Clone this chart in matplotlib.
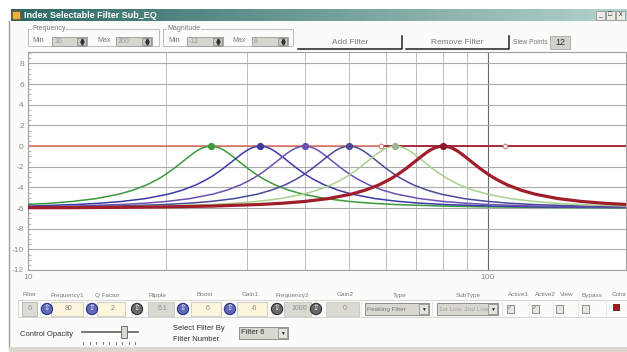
import numpy as np
import matplotlib
matplotlib.use("Agg")
import matplotlib.pyplot as plt
from matplotlib.patches import Rectangle, Circle
from matplotlib.ticker import MultipleLocator, FixedLocator, NullFormatter

plt.rcParams['font.family'] = ['Liberation Sans', 'DejaVu Sans']
plt.rcParams['axes.unicode_minus'] = False

W, H = 627, 352

# ---- chart data ----
freq_range = [10, 200]
mag_range = [-12, 8]
y_ticks = list(range(-12, 9, 2))
x_minor = [20, 30, 40, 50, 60, 70, 80, 90]

filter_centres = [25, 32, 40, 50, 63, 80]
filter_colors = ["#3b9a3b", "#3a3aa8", "#6a52b2", "#4a4a98", "#a9d08e", "#a01e2a"]
filter_widths = [1.1, 1.1, 1.1, 1.1, 1.1, 2.3]
peak_fill = ["#3b9a3b", "#3a3aa8", "#6a52b2", "#4a4a98", "#9fb292", "#8a1a30"]

# one-sided shape of each peaking curve: offset from centre (decades) -> dB
offset_dec = [0.0, 0.01, 0.02, 0.03, 0.04, 0.05, 0.06, 0.07, 0.08, 0.09, 0.10,
              0.11, 0.12, 0.14, 0.17, 0.20, 0.25, 0.30, 0.35, 0.40, 0.50,
              0.60, 0.70, 0.80, 0.90, 1.00]
shape_db = [0.0, -0.06, -0.21, -0.45, -0.76, -1.10, -1.46, -1.81, -2.16, -2.48,
            -2.79, -3.07, -3.32, -3.77, -4.28, -4.66, -5.09, -5.36, -5.54, -5.66,
            -5.81, -5.89, -5.93, -5.96, -5.97, -5.98]
band_edges = [58.5, 109]

# ---- figure ----
fig = plt.figure(figsize=(W / 100, H / 100), dpi=100)
fig.patch.set_facecolor("white")

bg = fig.add_axes([0, 0, 1, 1])
bg.set_xlim(0, W)
bg.set_ylim(H, 0)
bg.axis("off")


def box(x0, y0, x1, y1, fc, ec="none", lw=0.7, z=1):
    bg.add_patch(Rectangle((x0, y0), x1 - x0, y1 - y0, facecolor=fc,
                           edgecolor=ec, linewidth=lw, zorder=z))


def txt(x, y, s, size=5, color="#7a7a7a", ha="center", **kw):
    bg.text(x, y, s, fontsize=size, color=color, ha=ha, va="center", zorder=5, **kw)


# window body + border
box(9, 9, W, 349, "#fbfbf9")
bg.plot([9, 9], [21, 349], color="#a0a0a0", lw=1.0, zorder=2)
box(9, 347, W, H, "#dcd8d0", z=2)

# title bar gradient
c0 = np.array([0x2c, 0x68, 0x64]) / 255
c1 = np.array([0xb4, 0xd2, 0xcc]) / 255
n = 80
for i in range(n):
    x0 = 11 + (W - 11) * i / n
    col = c0 + (c1 - c0) * (i / (n - 1))
    box(x0, 9, x0 + (W - 11) / n + 0.6, 21, col, z=2)
box(12, 11, 20, 19, "#e8b040", ec="#905020", lw=0.5, z=3)
txt(24, 15.3, "Index Selectable Filter Sub_EQ", size=6.5, color="white",
    ha="left", fontweight="bold")
for bx, g in zip([596, 606, 616], ["_", "□", "x"]):
    box(bx, 11, bx + 9, 19.5, "#ecebe6", ec="#8a8a8a", lw=0.5, z=3)
    txt(bx + 4.5, 15, g, size=5, color="#303030")


def spin(x0, x1, y0, y1, val):
    box(x0, y0, x1, y1, "#d6d6ce", ec="#9a9a9a", lw=0.6, z=3)
    box(x1 - 10, y0 + 1, x1 - 1, y1 - 1, "#c8c8c0", ec="#707070", lw=0.4, z=4)
    bg.plot([x1 - 5.5], [y0 + 2.8], marker="^", ms=2.2, color="#303030", zorder=5)
    bg.plot([x1 - 5.5], [y1 - 2.8], marker="v", ms=2.2, color="#303030", zorder=5)
    txt(x0 + 2, (y0 + y1) / 2, val, size=5, color="#9a9a9a", ha="left")


# group boxes
for x0, x1, name in [(28, 159, "Frequency"), (163, 293, "Magnitude")]:
    box(x0, 29, x1, 46, "none", ec="#b4b4b4", lw=0.6, z=3)
    bg.text(x0 + 4, 29, name, fontsize=5, color="#7a7a7a", ha="left", va="center",
            zorder=5, bbox=dict(facecolor="#fbfbf9", edgecolor="none", pad=0.3))
txt(32, 41, "Min", ha="left")
spin(52, 87, 37, 46, "10")
txt(97, 41, "Max", ha="left")
spin(116, 152, 37, 46, "200")
txt(168, 41, "Min", ha="left")
spin(187, 223, 37, 46, "-12")
txt(232, 41, "Max", ha="left")
spin(252, 288, 37, 46, "8")

# buttons
for x0, x1, label in [(298, 402, "Add Filter"), (406, 509, "Remove Filter")]:
    bg.plot([x0, x1, x1], [49, 49, 36], color="#202020", lw=1.1, zorder=4)
    txt((x0 + x1) / 2, 43, label, size=6, color="#7a7a7a")
txt(513, 43, "Slew Points", size=4.8, ha="left")
box(550, 36, 570, 49, "#d2d2ca", ec="#9a9a9a", lw=0.5, z=3)
txt(560, 42.5, "12", size=6.5, color="#303030")

# ---- bottom control row ----
box(18, 300, 627, 317, "none", ec="#c8c8c8", lw=0.5, z=2)
labels = [(30, "Filter"), (67, "Frequency1"), (107, "Q Factor"), (157, "Ripple"),
          (205, "Boost"), (250, "Gain1"), (292, "Frequency2"), (345, "Gain2"),
          (400, "Type"), (468, "SubType"), (518, "Active1"), (545, "Active2"),
          (567, "View"), (592, "Bypass"), (619, "Color")]
for x, s in labels:
    txt(x, 295, s, size=4.6)

box(22, 302, 37, 316, "#dcdcd4", ec="#a8a8a8", lw=0.5, z=3)
txt(29.5, 309, "6", size=5.5, color="#9a9a9a")

cells = [(47, 51, 83, "80", True), (92, 97, 125, "2", True),
         (137, 148, 174, "6.1", False), (183, 191, 221, "6", True),
         (230, 237, 267, "-6", True), (277, 284, 311, "1000", False),
         (316, 326, 359, "0", False)]
for kx, f0, f1, val, live in cells:
    fc = "#fbf6dc" if live else "#dadad2"
    box(f0, 302, f1, 316, fc, ec="#c0c0b8", lw=0.5, z=3)
    txt((f0 + f1) / 2 + 2, 309, val, size=5, color="#8a8a8a")
    kc, ke = ("#6068b8", "#2c3480") if live else ("#6a6a6a", "#303030")
    bg.add_patch(Circle((kx, 309), 5.6, facecolor=kc, edgecolor=ke, lw=0.8, zorder=4))
    txt(kx, 308.8, "⇧", size=5.5, color="white")


def drop(x0, x1, y0, y1, s, col):
    box(x0, y0, x1, y1, "#d8d8d0", ec="#808080", lw=0.6, z=3)
    box(x1 - 10, y0 + 1, x1 - 1, y1 - 1, "#e4e4dc", ec="#707070", lw=0.4, z=4)
    txt(x1 - 5.5, (y0 + y1) / 2, "▼", size=3.5, color="#202020")
    txt(x0 + 2, (y0 + y1) / 2, s, size=4.6, color=col, ha="left")


drop(365, 429, 303, 315, "Peaking Filter", "#7a7a7a")
drop(437, 498, 303, 315, "1st Low, 2nd Low", "#a0a0a0")
for cx, ticked in [(510, True), (535, True), (559, False), (585, False)]:
    box(cx - 3.5, 304.5, cx + 3.5, 312.5, "#e6e6de", ec="#808080", lw=0.6, z=3)
    if ticked:
        txt(cx, 308.5, "✓", size=5, color="#808080")
box(613, 304, 620, 311, "#a01a2a", z=3)
for sx in [40, 87, 132, 180, 226, 273, 315, 361, 432, 502, 529, 553, 578, 606]:
    bg.plot([sx, sx], [300, 317], color="#e0e0e0", lw=0.5, zorder=2)

# opacity slider / filter selector
txt(20, 334, "Control Opacity", size=5.5, color="#303030", ha="left")
bg.plot([82, 138], [332, 332], color="#606060", lw=1.2, zorder=3)
box(121, 326, 127, 338, "#d8d8d0", ec="#606060", lw=0.6, z=4)
for tx in np.linspace(83, 135, 9):
    bg.plot([tx, tx], [341.5, 343.5], color="#606060", lw=0.6, zorder=3)
txt(173, 328.5, "Select Filter By", size=5.5, color="#303030", ha="left")
txt(173, 339.5, "Filter Number", size=5.5, color="#303030", ha="left")
box(239, 327, 288, 339, "#d8d8d0", ec="#808080", lw=0.6, z=3)
box(278, 328, 287, 338, "#e4e4dc", ec="#707070", lw=0.4, z=4)
txt(282.5, 333, "▼", size=3.5, color="#202020")
txt(241, 333, "Filter 6", size=5.5, color="#303030", ha="left")

# ---- chart ----
ax = fig.add_axes([28 / W, 1 - 270 / H, (626 - 28) / W, (270 - 52) / H])
ax.set_facecolor("white")
ax.set_xscale("log")
ax.set_xlim(freq_range)
ax.set_ylim(mag_range[0], 9.1)

ax.set_yticks(y_ticks)
ax.yaxis.set_minor_locator(MultipleLocator(0.5))
ax.set_xticks([10, 100])
ax.set_xticklabels(["10", "100"])
ax.xaxis.set_minor_locator(FixedLocator(x_minor))
ax.xaxis.set_minor_formatter(NullFormatter())
ax.grid(which="major", axis="y", color="#ababab", lw=0.8)
ax.grid(which="minor", axis="x", color="#bdbdbd", lw=0.7)
ax.grid(which="major", axis="x", color="#6a6a6a", lw=0.8)
ax.tick_params(axis="x", which="both", length=0, pad=3, labelsize=6,
               labelcolor="#8a8a8a")
ax.tick_params(axis="y", which="major", length=0, pad=3, labelsize=6,
               labelcolor="#8a8a8a")
ax.tick_params(axis="y", which="minor", direction="in", length=2.5,
               color="#9a9a9a", width=0.5)
for sp in ax.spines.values():
    sp.set_color("#a0a0a0")
    sp.set_linewidth(0.8)

# zero reference line
ax.axhline(0, color="#dd6b5a", lw=1.1, zorder=2)
ax.plot([band_edges[0], freq_range[1]], [0, 0], color="#a02838", lw=1.3, zorder=2)

d = np.array(offset_dec)
s = np.array(shape_db)
d_full = np.concatenate([-d[:0:-1], d])
s_full = np.concatenate([s[:0:-1], s])
for c, col, lw, pf in zip(filter_centres, filter_colors, filter_widths, peak_fill):
    ax.plot(c * 10 ** d_full, s_full, color=col, lw=lw, zorder=3)
    ax.plot([c], [0], "o", ms=4.2, mfc=pf, mec=pf, zorder=5)

ax.plot(band_edges, [0, 0], "o", ms=3.3, mfc="white", mec="#d07a7a", mew=0.8, zorder=5)

fig.savefig("out.png", dpi=100, facecolor=fig.get_facecolor())
